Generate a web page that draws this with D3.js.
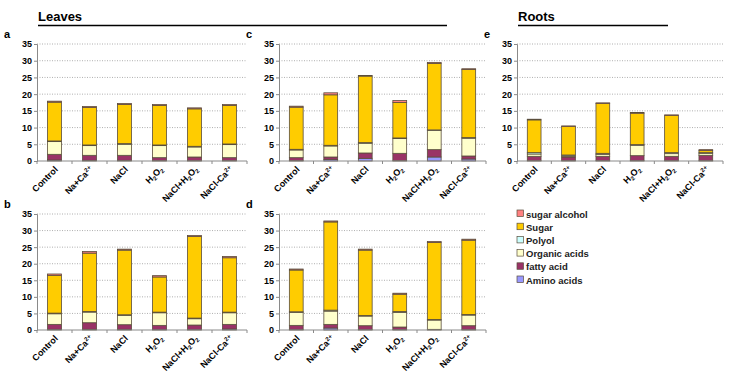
<!DOCTYPE html>
<html><head><meta charset="utf-8">
<script src="https://cdn.jsdelivr.net/npm/d3@7"></script>
<style>body{margin:0;background:#fff}svg{display:block}text{font-family:"Liberation Sans",Arial,sans-serif;font-weight:bold}</style>
</head><body><svg id="c" width="735" height="383"></svg>
<script>
const categories = ["Control","Na+Ca^2+","NaCl","H_2O_2","NaCl+H_2O_2","NaCl-Ca^2+"];
const panels = ["a","b","c","d","e"];
const seriesNames = ["Amino acids","fatty acid","Organic acids","Polyol","Sugar","sugar alcohol"];
const seriesColors = ["#9999ff","#993366","#ffffcc","#ccffff","#ffcc00","#ff8080"];
const yTicks = [0,5,10,15,20,25,30,35];
// segment values per panel (rows a..e), per category
const aminoAcids = [
  [0.3,0.2,0.2,0.1,0.1,0.1],
  [0.2,0.2,0.2,0.1,0.1,0.3],
  [0.1,0.5,0.8,0.1,1.2,0.6],
  [0.1,0.6,0.1,0.1,0.1,0.1],
  [0.1,0.1,0.1,0.1,0.1,0.1]];
const fattyAcid = [
  [1.7,1.5,1.5,0.9,1.1,0.9],
  [1.5,2.0,1.4,1.3,1.4,1.4],
  [0.9,0.7,1.6,2.2,2.2,0.9],
  [1.3,1.1,1.2,0.8,0.1,1.2],
  [1.3,1.1,1.3,1.5,1.3,1.6]];
const organicAcids = [
  [3.8,2.9,3.3,3.6,3.0,3.9],
  [3.2,3.2,2.8,3.8,1.9,3.5],
  [2.3,3.3,2.9,4.4,5.7,5.3],
  [3.9,4.0,2.9,4.4,2.8,3.2],
  [0.7,0.3,0.6,3.1,0.8,0.6]];
const polyol = [
  [0.2,0.2,0.2,0.2,0.2,0.2],
  [0.2,0.2,0.2,0.2,0.2,0.2],
  [0.2,0.2,0.2,0.2,0.2,0.2],
  [0.2,0.3,0.2,0.3,0.2,0.2],
  [0.4,0.3,0.3,0.2,0.3,0.2]];
const sugar = [
  [11.6,11.2,11.7,11.8,11.2,11.5],
  [11.4,17.6,19.5,10.6,24.6,16.4],
  [12.6,15.1,19.9,10.6,19.9,20.4],
  [12.6,26.6,19.7,5.2,23.2,22.4],
  [9.8,8.5,14.9,9.4,11.1,0.6]];
const sugarAlcohol = [
  [0.3,0.3,0.3,0.3,0.3,0.3],
  [0.4,0.5,0.3,0.4,0.3,0.4],
  [0.3,0.6,0.2,0.6,0.3,0.2],
  [0.3,0.3,0.3,0.3,0.3,0.3],
  [0.2,0.2,0.2,0.2,0.2,0.3]];

const layout = [
  {x0:37,x1:247,y0:44,y1:161},
  {x0:37,x1:247,y0:214,y1:330},
  {x0:279,x1:486,y0:44,y1:161},
  {x0:279,x1:486,y0:214,y1:330},
  {x0:517,x1:723,y0:44,y1:161}];

const svg = d3.select("#c");
const allSeries = [aminoAcids,fattyAcid,organicAcids,polyol,sugar,sugarAlcohol];

function richLabel(sel, s){
  // parse _x (subscript) and ^x (superscript up to end)
  const re = /(_[0-9]+|\^[0-9+]+)/g;
  let last = 0, m;
  while((m = re.exec(s))){
    if(m.index>last) sel.append("tspan").text(s.slice(last,m.index));
    const t = m[0];
    const sp = sel.append("tspan").attr("font-size","6px").text(t.slice(1));
    sp.attr("baseline-shift", t[0]==="_" ? "-25%" : "45%");
    last = m.index + t.length;
  }
  if(last < s.length) sel.append("tspan").text(s.slice(last));
}

panels.forEach((p,pi)=>{
  const L = layout[pi];
  const g = svg.append("g");
  const x = d3.scaleBand().domain(categories).range([L.x0,L.x1]).paddingInner(0.6).paddingOuter(0.3);
  const y = d3.scaleLinear().domain([0,35]).range([L.y1,L.y0]);
  // grid
  g.selectAll("line.grid").data(yTicks.slice(1)).join("line")
    .attr("x1",L.x0).attr("x2",L.x1).attr("y1",d=>y(d)).attr("y2",d=>y(d))
    .attr("stroke","#9a9a9a").attr("stroke-width",0.8).attr("stroke-dasharray","1,1.5");
  // data
  const rows = categories.map((c,ci)=>{
    const r = {cat:c};
    seriesNames.forEach((s,si)=>{ r[s] = allSeries[si][pi][ci]; });
    return r;
  });
  const stacked = d3.stack().keys(seriesNames)(rows);
  stacked.forEach((layer,li)=>{
    g.selectAll(null).data(layer).join("rect")
      .attr("x",d=>x(d.data.cat)).attr("width",x.bandwidth())
      .attr("y",d=>y(d[1])).attr("height",d=>y(d[0])-y(d[1]))
      .attr("fill",seriesColors[li]).attr("stroke","#5a4e3c").attr("stroke-width",0.8);
  });
  // y axis
  const ya = d3.axisLeft(y).tickValues(yTicks).tickSize(3).tickPadding(2);
  const yg = g.append("g").attr("transform",`translate(${L.x0},0)`).call(ya);
  yg.select(".domain").attr("stroke","#8a8a8a");
  yg.selectAll(".tick line").attr("stroke","#8a8a8a");
  yg.selectAll(".tick text").attr("font-size","9px").attr("font-family","Liberation Sans, Arial, sans-serif").attr("font-weight","bold").attr("fill","#000");
  // x axis
  g.append("line").attr("x1",L.x0).attr("x2",L.x1).attr("y1",L.y1).attr("y2",L.y1).attr("stroke","#8a8a8a");
  const step = (L.x1-L.x0)/categories.length;
  g.selectAll(null).data(d3.range(categories.length+1)).join("line")
    .attr("x1",i=>L.x0+i*step).attr("x2",i=>L.x0+i*step).attr("y1",L.y1).attr("y2",L.y1+3).attr("stroke","#8a8a8a");
  categories.forEach(c=>{
    const cx = x(c)+x.bandwidth()/2 + 4;
    const t = g.append("text").attr("font-size","9px").attr("text-anchor","end")
      .attr("transform",`translate(${cx},${L.y1+9}) rotate(-45)`);
    richLabel(t,c);
  });
  svg.append("text").attr("x",L.x0-33).attr("y",L.y0-6).attr("font-size","11px").text(p);
});

// titles
svg.append("text").attr("x",38).attr("y",21).attr("font-size","13px").text("Leaves");
svg.append("line").attr("x1",38).attr("x2",447).attr("y1",25.5).attr("y2",25.5).attr("stroke","#000").attr("stroke-width",1.5);
svg.append("text").attr("x",518).attr("y",21).attr("font-size","13px").text("Roots");
svg.append("line").attr("x1",518).attr("x2",668).attr("y1",25.5).attr("y2",25.5).attr("stroke","#000").attr("stroke-width",1.5);

// legend
const legOrder = seriesNames.map((s,i)=>i).reverse();
legOrder.forEach((si,k)=>{
  const ly = 214 + k*13.2;
  svg.append("rect").attr("x",517).attr("y",ly-4).attr("width",6.5).attr("height",6.5)
    .attr("fill",seriesColors[si]).attr("stroke","#5a4e3c").attr("stroke-width",0.7);
  svg.append("text").attr("x",526).attr("y",ly+3.5).attr("font-size","9.5px").attr("fill","#222").text(seriesNames[si]);
});
</script></body></html>
